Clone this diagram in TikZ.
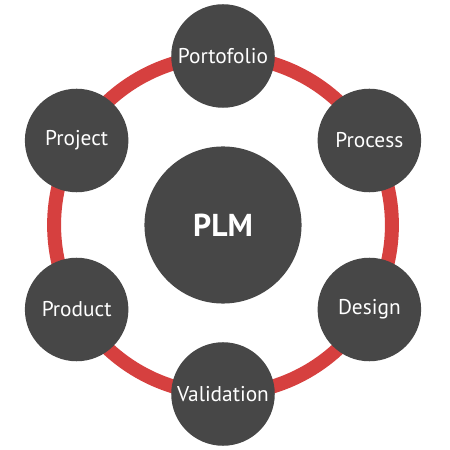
\documentclass[tikz,border=0pt]{standalone}
\usepackage{fontspec}
\setmainfont{PT Sans}
\usetikzlibrary{backgrounds}
\definecolor{ringred}{HTML}{D6403F}
\definecolor{discgray}{HTML}{474747}

\begin{document}
\begin{tikzpicture}[x=0.02222cm,y=0.02222cm,main node/.style={circle,fill=discgray,text=white,minimum size=2.3cm,inner sep=0pt,font=\fontsize{13.5}{16}\selectfont},hub node/.style={circle,fill=discgray,text=white,minimum size=3.49cm,inner sep=0pt,font=\fontsize{20}{24}\selectfont\bfseries}]
                \useasboundingbox (-223,-225) rectangle (227,225);
                \node[hub node] (0) at (0,0) {PLM};
                \node[main node] (1) at (90:169) {Portofolio};
                \node[main node] (2) at (30:169) {Process};
                \node[main node] (3) at (-30:169) {Design};
                \node[main node] (4) at (-90:169) {Validation};
                \node[main node] (5) at (210:169) {Product};
                \node[main node] (6) at (150:169) {Project};

                \begin{pgfonlayer}{background}
                \path[draw=ringred,line width=0.31cm,every edge/.style={draw,bend right=30,looseness=0.913}]
                    (1.center) edge (6.center)
                    (6.center) edge (5.center)
                    (5.center) edge (4.center)
                    (4.center) edge (3.center)
                    (3.center) edge (2.center)
                    (2.center) edge (1.center)
                    ;
                \end{pgfonlayer}
            \end{tikzpicture}
\end{document}
